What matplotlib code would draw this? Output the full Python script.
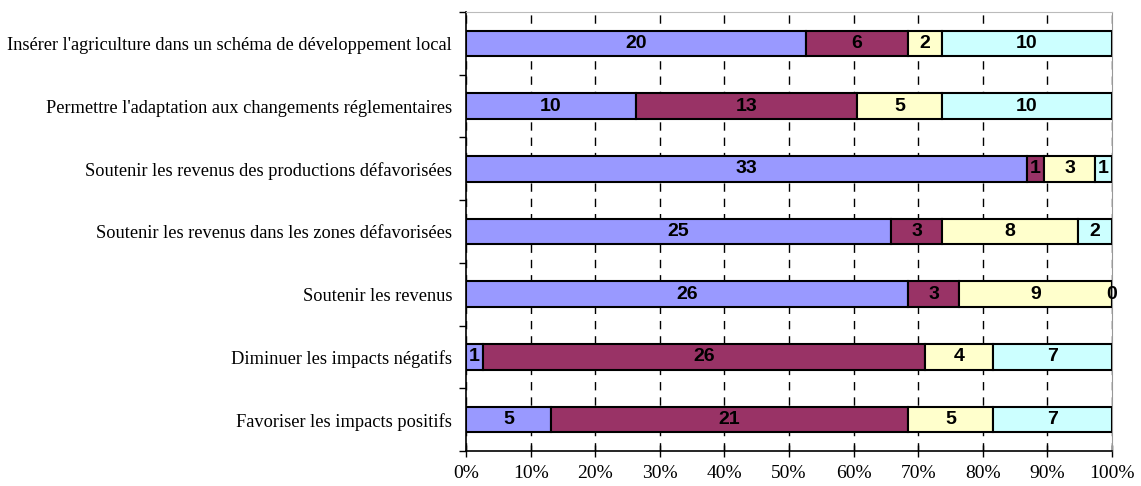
import numpy as np
import matplotlib.pyplot as plt
from matplotlib.ticker import FixedLocator, PercentFormatter

# Données
categories = [
    "Insérer l'agriculture dans un schéma de développement local",
    "Permettre l'adaptation aux changements réglementaires",
    "Soutenir les revenus des productions défavorisées",
    "Soutenir les revenus dans les zones défavorisées",
    "Soutenir les revenus",
    "Diminuer les impacts négatifs",
    "Favoriser les impacts positifs",
]
serie1 = [20, 10, 33, 25, 26, 1, 5]
serie2 = [6, 13, 1, 3, 3, 26, 21]
serie3 = [2, 5, 3, 8, 9, 4, 5]
serie4 = [10, 10, 1, 2, 0, 7, 7]
couleurs = ["#9999FF", "#993366", "#FFFFCC", "#CCFFFF"]

series = np.array([serie1, serie2, serie3, serie4], dtype=float)
totaux = series.sum(axis=0)
parts = series / totaux * 100

fig = plt.figure(figsize=(11.41, 4.86), dpi=100)
ax = fig.add_axes([466 / 1141, 35 / 486, 646 / 1141, 439 / 486])

y = np.arange(len(categories))
gauche = np.zeros(len(categories))
for i in range(4):
    ax.barh(y, parts[i], left=gauche, height=0.41, color=couleurs[i],
            edgecolor="black", linewidth=1.5, zorder=3)
    for j in range(len(categories)):
        ax.text(gauche[j] + parts[i][j] / 2, y[j], str(int(series[i][j])),
                ha="center", va="center", fontsize=14, fontweight="bold",
                family="Liberation Sans", zorder=4)
    gauche += parts[i]

ax.set_xlim(0, 100)
ax.set_ylim(6.5, -0.5)
ax.set_xticks(np.arange(0, 101, 10))
ax.xaxis.set_major_formatter(PercentFormatter(decimals=0))
ax.set_yticks(y)
ax.set_yticklabels(categories, family="Liberation Serif", fontsize=13.2)
ax.yaxis.set_minor_locator(FixedLocator(np.arange(-0.5, 7, 1)))
ax.tick_params(axis="y", which="major", length=0, pad=10)
ax.tick_params(axis="y", which="minor", length=5, width=1)
ax.tick_params(axis="x", direction="inout", length=8, width=1, pad=6)
for lab in ax.get_xticklabels():
    lab.set_family("Liberation Serif")
    lab.set_fontsize(14)

ax.grid(axis="x", color="black", linestyle=(0, (6, 5)), linewidth=1, zorder=0)
ax.spines["top"].set_color("#BBBBBB")
ax.spines["right"].set_color("#999999")
ax.spines["left"].set_linewidth(1.2)
ax.spines["bottom"].set_linewidth(1.2)

fig.savefig("out.png", dpi=100)
